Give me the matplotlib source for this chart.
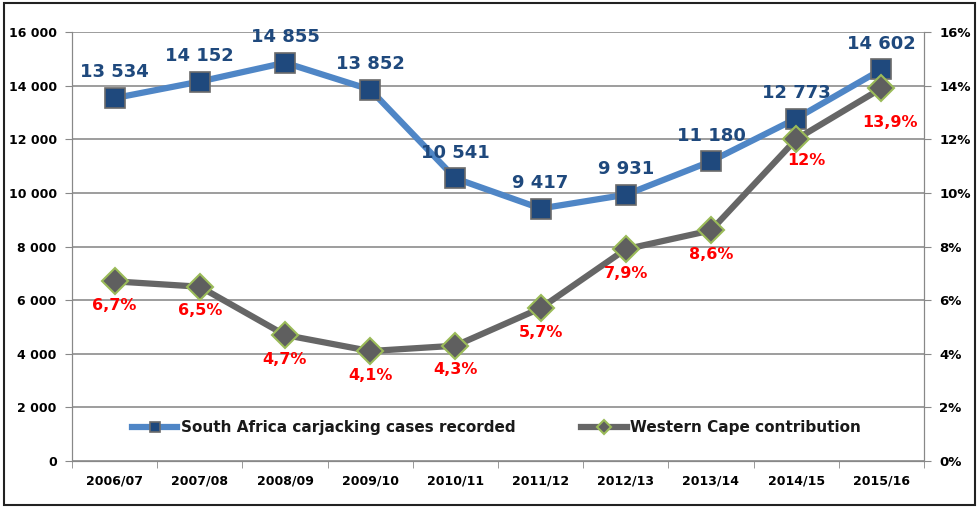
import matplotlib.pyplot as plt
from matplotlib.ticker import FuncFormatter, MultipleLocator

years = ['2006/07', '2007/08', '2008/09', '2009/10', '2010/11',
         '2011/12', '2012/13', '2013/14', '2014/15', '2015/16']
sa_cases = [13534, 14152, 14855, 13852, 10541, 9417, 9931, 11180, 12773, 14602]
wc_share = [6.7, 6.5, 4.7, 4.1, 4.3, 5.7, 7.9, 8.6, 12, 13.9]
wc_labels = ['6,7%', '6,5%', '4,7%', '4,1%', '4,3%', '5,7%', '7,9%', '8,6%', '12%', '13,9%']

plt.rcParams['font.family'] = ['DejaVu Sans']
plt.rcParams['font.weight'] = 'bold'

fig = plt.figure(figsize=(9.79, 5.07), dpi=100)
ax = fig.add_axes([72 / 979, 1 - 461 / 507, (924 - 72) / 979, (461 - 32) / 507])
ax2 = ax.twinx()

x = list(range(len(years)))

l1, = ax.plot(x, sa_cases, color='#4F86C6', lw=4.5, marker='s', ms=14,
              mfc='#1F497D', mec='#6B6B6B', mew=1.2, zorder=3,
              label='South Africa carjacking cases recorded')
l2, = ax2.plot(x, wc_share, color='#666666', lw=4.5, marker='D', ms=13,
               mfc='#5F5F5F', mec='#9BBB59', mew=1.5, zorder=3,
               label='Western Cape contribution')

for xi, v in zip(x, sa_cases):
    ax.annotate(f'{v:,}'.replace(',', ' '), (xi, v), xytext=(0, 12), textcoords='offset points',
                ha='center', va='bottom', color='#1F497D', fontsize=13, fontweight='bold')
for xi, v, t in zip(x, wc_share, wc_labels):
    dx, dy = 0, -12
    if t == '12%':
        dx, dy = 7, -10
    if t == '13,9%':
        dx, dy = 6, -19
    ax2.annotate(t, (xi, v), xytext=(dx, dy), textcoords='offset points',
                 ha='center', va='top', color='#FF0000', fontsize=11.5, fontweight='bold')

ax.set_xlim(-0.5, 9.5)
ax.set_ylim(0, 16000)
ax2.set_ylim(0, 16)
ax.yaxis.set_major_locator(MultipleLocator(2000))
ax2.yaxis.set_major_locator(MultipleLocator(2))
ax.yaxis.set_major_formatter(FuncFormatter(lambda v, p: f'{int(v):,}'.replace(',', ' ')))
ax2.yaxis.set_major_formatter(FuncFormatter(lambda v, p: f'{int(v)}%'))

ax.set_xticks(x)
ax.set_xticklabels(years)
ax.set_xticks([i + 0.5 for i in range(-1, 10)], minor=True)
ax.tick_params(axis='x', which='major', length=0, pad=10, labelsize=9)
ax.tick_params(axis='x', which='minor', length=5, color='#888888', direction='out')
ax.tick_params(axis='y', length=5, color='#888888', labelsize=9, pad=6)
ax2.tick_params(axis='y', length=5, color='#888888', labelsize=9.5, pad=6)

ax.grid(axis='y', color='#8C8C8C', lw=1.2)
ax.set_axisbelow(True)
for a in (ax, ax2):
    a.spines['top'].set_visible(False)
    for s in ['left', 'right', 'bottom']:
        a.spines[s].set_color('#888888')

leg = ax2.legend(handles=[l1, l2], loc='center left', bbox_to_anchor=(0.07, 0.078),
                 ncol=2, frameon=False, fontsize=11, handlelength=3.0,
                 columnspacing=4.3, handletextpad=0.2, markerscale=0.55,
                 borderaxespad=0, borderpad=0)
for t in leg.get_texts():
    t.set_color('#1a1a1a')

fig.patches.append(plt.Rectangle((0.004, 0.004), 0.992, 0.99, transform=fig.transFigure,
                                 fill=False, edgecolor='#222222', lw=1.5))

fig.savefig('out.png', dpi=100)
